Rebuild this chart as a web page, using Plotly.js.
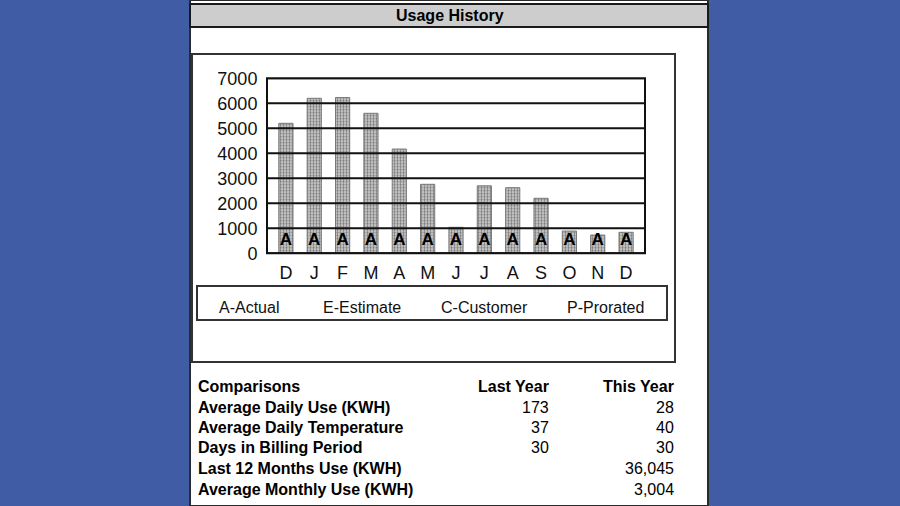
<!DOCTYPE html>
<html>
<head>
<meta charset="utf-8">
<script src="https://cdn.plot.ly/plotly-3.0.1.min.js"></script>
<style>
html,body{margin:0;padding:0;background:#3F5CA4;}
#chart{width:900px;height:506px;}
</style>
</head>
<body>
<div id="chart"></div>
<script>
// ---- data ----
const months = ["D","J","F","M","A","M ","J ","J  ","A ","S","O","N","D "];
const monthLabels = ["D","J","F","M","A","M","J","J","A","S","O","N","D"];
const usage = [5200, 6200, 6230, 5600, 4170, 2760, 1040, 2700, 2625, 2200, 890, 730, 840];
const readCodes = ["A","A","A","A","A","A","A","A","A","A","A","A","A"];
const yTicks = [0, 1000, 2000, 3000, 4000, 5000, 6000, 7000];
const legendCodes = ["A-Actual", "E-Estimate", "C-Customer", "P-Prorated"];
const compRows = ["Comparisons", "Average Daily Use (KWH)", "Average Daily Temperature",
                  "Days in Billing Period", "Last 12 Months Use (KWH)", "Average Monthly Use (KWH)"];
const lastYear = ["Last Year", "173", "37", "30", "", ""];
const thisYear = ["This Year", "28", "40", "30", "36,045", "3,004"];

// ---- helpers ----
const W = 900, H = 506;
const px = x => x / W;
const py = y => 1 - y / H;
const FONT = "Liberation Sans, Arial, sans-serif";

const traces = [
  {
    type: "bar", x: months, y: usage,
    marker: {
      color: "#c0c0c0",
      line: {color: "#777777", width: 1},
      pattern: {shape: ".", fgcolor: "#777777", bgcolor: "#d2d2d2", size: 3, solidity: 0.45}
    },
    hoverinfo: "x+y", showlegend: false
  },
  {
    type: "scatter", mode: "text", x: months, y: months.map(() => 490),
    text: readCodes, textposition: "middle center",
    textfont: {family: FONT, size: 17, color: "#000", weight: "bold"},
    hoverinfo: "skip", showlegend: false
  }
];

const shapes = [
  // white panel
  {type: "rect", xref: "paper", yref: "paper", x0: px(190), x1: px(708), y0: 0, y1: 1,
   fillcolor: "#ffffff", line: {color: "#2a2a2a", width: 2}, layer: "below"},
  // header bar
  {type: "rect", xref: "paper", yref: "paper", x0: px(190), x1: px(708), y0: py(27), y1: py(4),
   fillcolor: "#cdcdcd", line: {color: "#1a1a1a", width: 2}, layer: "below"},
  // chart frame
  {type: "rect", xref: "paper", yref: "paper", x0: px(192), x1: px(675), y0: py(362), y1: py(54),
   fillcolor: "rgba(0,0,0,0)", line: {color: "#333", width: 2}, layer: "below"},
  // legend box
  {type: "rect", xref: "paper", yref: "paper", x0: px(197), x1: px(667), y0: py(320), y1: py(286),
   fillcolor: "rgba(0,0,0,0)", line: {color: "#333", width: 2}, layer: "below"}
];
// gridlines on top of bars, from tick values
yTicks.forEach(v => {
  shapes.push({type: "line", xref: "x domain", yref: "y", x0: 0, x1: 1, y0: v, y1: v,
    line: {color: "#111", width: 2}, layer: "above"});
});
// plot frame
shapes.push({type: "rect", xref: "x domain", yref: "y domain", x0: 0, x1: 1, y0: 0, y1: 1,
  line: {color: "#111", width: 2}, fillcolor: "rgba(0,0,0,0)", layer: "above"});

const annotations = [
  {text: "Usage History", xref: "paper", yref: "paper", x: px(450), y: py(15),
   xanchor: "center", yanchor: "middle", showarrow: false,
   font: {family: FONT, size: 16, color: "#000", weight: "bold"}}
];
const legendX = [217, 321, 439, 565];
legendCodes.forEach((t, i) => {
  annotations.push({text: t, xref: "paper", yref: "paper", x: px(legendX[i]), y: py(307),
    xanchor: "left", yanchor: "middle", showarrow: false,
    font: {family: FONT, size: 16, color: "#111"}});
});
const rowY = [386, 407, 427, 447, 468, 489];
compRows.forEach((t, i) => {
  annotations.push({text: t, xref: "paper", yref: "paper", x: px(196), y: py(rowY[i]),
    xanchor: "left", yanchor: "middle", showarrow: false,
    font: {family: FONT, size: 16, color: "#000", weight: "bold"}});
  if (lastYear[i]) annotations.push({text: lastYear[i], xref: "paper", yref: "paper", x: px(551), y: py(rowY[i]),
    xanchor: "right", yanchor: "middle", showarrow: false,
    font: {family: FONT, size: 16, color: "#000", weight: i === 0 ? "bold" : "normal"}});
  if (thisYear[i]) annotations.push({text: thisYear[i], xref: "paper", yref: "paper", x: px(676), y: py(rowY[i]),
    xanchor: "right", yanchor: "middle", showarrow: false,
    font: {family: FONT, size: 16, color: "#000", weight: i === 0 ? "bold" : "normal"}});
});

const layout = {
  width: W, height: H,
  margin: {l: 0, r: 0, t: 0, b: 0},
  paper_bgcolor: "#3F5CA4",
  plot_bgcolor: "rgba(0,0,0,0)",
  bargap: 0.5,
  showlegend: false,
  font: {family: FONT, color: "#111"},
  xaxis: {
    domain: [px(267), px(645)],
    type: "category",
    tickvals: months, ticktext: monthLabels,
    showgrid: false, zeroline: false, showline: false,
    ticks: "outside", ticklen: 3, tickcolor: "rgba(0,0,0,0)",
    tickfont: {family: FONT, size: 18, color: "#111"},
    fixedrange: true
  },
  yaxis: {
    domain: [py(253.3), py(78.3)],
    range: [0, 7000],
    tickvals: yTicks,
    showgrid: false, zeroline: false, showline: false,
    ticks: "outside", ticklen: 5, tickcolor: "rgba(0,0,0,0)",
    tickfont: {family: FONT, size: 18, color: "#111"},
    fixedrange: true
  },
  shapes: shapes,
  annotations: annotations
};

Plotly.newPlot("chart", traces, layout, {displayModeBar: false, staticPlot: true});
</script>
</body>
</html>
